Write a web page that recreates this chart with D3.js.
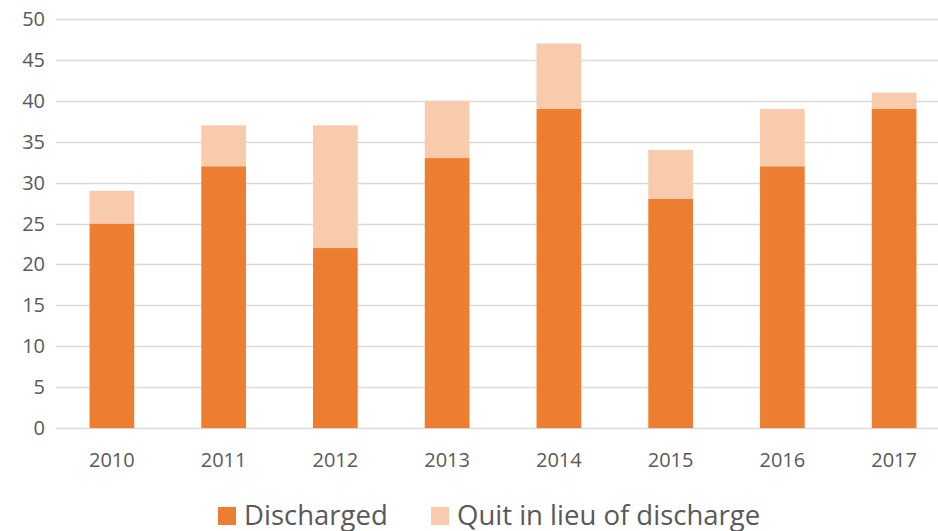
<!DOCTYPE html>
<html>
<head>
<meta charset="utf-8">
<script src="https://cdn.jsdelivr.net/npm/d3@7"></script>
<style>
  body { margin: 0; background: #fff; }
  text { font-family: "Open Sans", sans-serif; fill: #595959; }
</style>
</head>
<body>
<div id="target"></div>
<script>
const years = ["2010", "2011", "2012", "2013", "2014", "2015", "2016", "2017"];
const discharged = [25, 32, 22, 33, 39, 28, 32, 39];
const quitInLieu = [4, 5, 15, 7, 8, 6, 7, 2];
const yTicks = [0, 5, 10, 15, 20, 25, 30, 35, 40, 45, 50];
const seriesNames = ["Discharged", "Quit in lieu of discharge"];
const colors = ["#ED7D31", "#F8CBAD"];

const W = 938, H = 531;
const plot = {left: 56, right: 950, top: 19, bottom: 428};

let svg = d3.select("#target").append("svg")
  .attr("width", W)
  .attr("height", H);

let x = d3.scaleBand()
  .domain(years)
  .range([plot.left, plot.right])
  .paddingInner(0.6)
  .paddingOuter(0.3);

let y = d3.scaleLinear()
  .domain([0, 50])
  .range([plot.bottom, plot.top]);

// gridlines
svg.append("g")
  .selectAll("line")
  .data(yTicks)
  .join("line")
  .attr("x1", plot.left)
  .attr("x2", W)
  .attr("y1", d => Math.round(y(d)) + 0.5)
  .attr("y2", d => Math.round(y(d)) + 0.5)
  .attr("stroke", "#D9D9D9")
  .attr("stroke-width", 1.5);

// y labels
svg.append("g")
  .selectAll("text")
  .data(yTicks)
  .join("text")
  .attr("x", 45)
  .attr("y", d => y(d))
  .attr("dy", "0.35em")
  .attr("text-anchor", "end")
  .style("font-size", "20px")
  .text(d => d);

// stacked data
let rows = years.map((yr, i) => ({year: yr, Discharged: discharged[i], "Quit in lieu of discharge": quitInLieu[i]}));
let stack = d3.stack().keys(seriesNames)(rows);

svg.append("g")
  .selectAll("g")
  .data(stack)
  .join("g")
  .attr("fill", (d, i) => colors[i])
  .selectAll("rect")
  .data(d => d)
  .join("rect")
  .attr("x", d => x(d.data.year))
  .attr("width", x.bandwidth())
  .attr("y", d => y(d[1]))
  .attr("height", d => y(d[0]) - y(d[1]));

// x labels
svg.append("g")
  .selectAll("text")
  .data(years)
  .join("text")
  .attr("x", d => x(d) + x.bandwidth() / 2)
  .attr("y", 467)
  .attr("text-anchor", "middle")
  .style("font-size", "20px")
  .text(d => d);

// legend
const legendX = [218, 431];
let legend = svg.append("g")
  .selectAll("g")
  .data(seriesNames)
  .join("g")
  .attr("transform", (d, i) => `translate(${legendX[i]},507)`);

legend.append("rect")
  .attr("width", 18)
  .attr("height", 18)
  .attr("fill", (d, i) => colors[i]);

legend.append("text")
  .attr("x", 26)
  .attr("y", 18)
  .style("font-size", "27.5px")
  .text(d => d);
</script>
</body>
</html>
